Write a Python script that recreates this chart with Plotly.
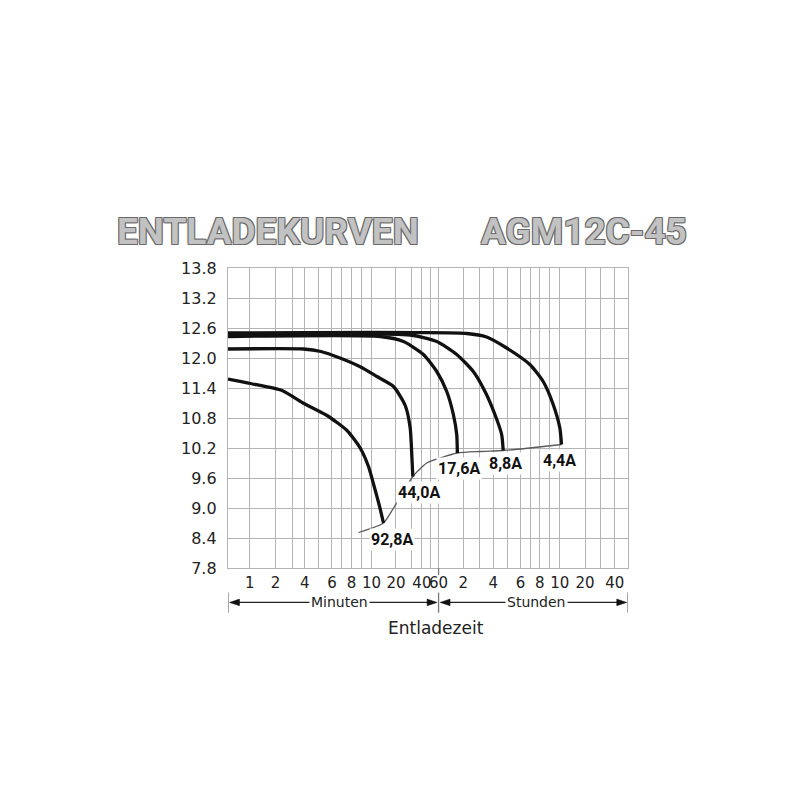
import numpy as np
import plotly.graph_objects as go

# ---- axis scale of the chart (non-uniform time grid) ----
GRID_MIN = [0, 1, 2, 3, 4, 5, 6, 7, 8, 9, 10, 20, 30, 40, 50, 60,
            120, 180, 240, 300, 360, 420, 480, 540, 600, 1200, 1800, 2400, 3000]
GRID_POS = [227.5, 249.2, 275, 291.7, 304.3, 317.8, 331.7, 341.7, 351.2, 361.5, 371.3,
            395.8, 411.8, 421.8, 430.2, 438.5, 463.3, 479.5, 493.3, 507.5, 520.5, 531,
            540, 550, 560, 585.3, 601.2, 615, 628.3]
TICK_LABELS = {1: "1", 2: "2", 4: "4", 6: "6", 8: "8", 10: "10", 20: "20", 40: "40",
               60: "60", 120: "2", 240: "4", 360: "6", 480: "8", 600: "10",
               1200: "20", 2400: "40"}
Y_TICKS = [7.8, 8.4, 9.0, 9.6, 10.2, 10.8, 11.4, 12.0, 12.6, 13.2, 13.8]

# ---- data: discharge time (minutes) and voltage (V) ----
T_928 = [0, 1.03, 2.4, 3.8, 5.64, 7.53, 8.85, 9.69, 11.1, 13.3, 14.9]
V_928 = [11.58, 11.49, 11.35, 11.11, 10.85, 10.55, 10.20, 9.83, 9.43, 9.03, 8.70]

T_440 = [0, 3.9, 5.2, 6.8, 8.9, 12.2, 19.0, 25.8, 28.9, 30.0, 30.9]
V_440 = [12.18, 12.18, 12.13, 12.0, 11.82, 11.63, 11.43, 11.05, 10.6, 10.0, 9.63]

T_176 = [0, 13.6, 24.7, 41.8, 57.8, 79.8, 95.8, 104, 105.5]
V_176 = [12.43, 12.43, 12.33, 12.07, 11.73, 11.33, 10.87, 10.47, 10.1]

T_88 = [0, 28.9, 57.8, 104, 157, 204, 247, 275.5, 282]
V_88 = [12.46, 12.46, 12.33, 12.07, 11.73, 11.33, 10.87, 10.47, 10.15]

T_44 = [0, 132.6, 211, 296.6, 414, 500, 560, 600, 640]
V_44 = [12.50, 12.49, 12.42, 12.2, 11.87, 11.53, 11.07, 10.6, 10.27]

T_END = [8.69, 14.9, 19.0, 23.7, 30.9, 45.8, 63.6, 105.5, 182, 282, 414, 640]
V_END = [8.51, 8.70, 9.0, 9.27, 9.63, 9.90, 10.0, 10.1, 10.13, 10.15, 10.2, 10.27]

CURVE_NAMES = ["92,8A", "44,0A", "17,6A", "8,8A", "4,4A"]


def pos(t):
    return np.interp(np.asarray(t, dtype=float), GRID_MIN, GRID_POS)


fig = go.Figure()

fig.add_trace(go.Scatter(x=pos(T_END), y=V_END, mode="lines",
                         line=dict(color="#5a5a5a", width=1.3, shape="spline", smoothing=0.6),
                         hoverinfo="skip"))

for name, t, v in zip(CURVE_NAMES,
                      [T_928, T_440, T_176, T_88, T_44],
                      [V_928, V_440, V_176, V_88, V_44]):
    fig.add_trace(go.Scatter(x=pos(t), y=v, mode="lines", name=name,
                             line=dict(color="#111111", width=3.3, shape="spline", smoothing=0.6)))

# curve labels (positions in axis units)
LABEL_POS = [(391.7, 8.37), (418.7, 9.32), (458.7, 9.79), (505.7, 9.89), (560.0, 9.95)]
LABEL_FONT = dict(family="Roboto, Liberation Sans, sans-serif",
                  size=16, color="#111111", weight="bold")
for name, (lx, ly) in zip(CURVE_NAMES, LABEL_POS):
    fig.add_annotation(x=lx, y=ly, xref="x", yref="y", text=name, showarrow=False,
                       font=LABEL_FONT, bgcolor="white", borderpad=1,
                       xanchor="center", yanchor="middle")

tickvals = GRID_POS[1:-1]
ticktext = [TICK_LABELS.get(m, "") for m in GRID_MIN[1:-1]]

GRID_COLOR = "#b4b4b4"
fig.update_xaxes(range=[GRID_POS[0], GRID_POS[-1]], tickmode="array", tickvals=tickvals,
                 ticktext=ticktext, tickangle=0, showgrid=True, gridcolor=GRID_COLOR,
                 gridwidth=1.3, showline=True, linecolor=GRID_COLOR, linewidth=1.3,
                 mirror=True, zeroline=False, ticks="", automargin=False,
                 ticklabelstandoff=1,
                 tickfont=dict(family="DejaVu Sans", size=15, color="#222222"))
fig.update_yaxes(range=[7.8, 13.8], tickmode="array", tickvals=Y_TICKS,
                 ticktext=[f"{v:.1f}" for v in Y_TICKS], showgrid=True,
                 gridcolor=GRID_COLOR, gridwidth=1.3, showline=True, linecolor=GRID_COLOR,
                 linewidth=1.3, mirror=True, zeroline=False, ticks="", automargin=False,
                 ticklabelstandoff=7,
                 tickfont=dict(family="DejaVu Sans", size=16, color="#222222"))

# --- time-range brackets below the axis ---
YB = -0.1147
AH = 0.011
LINE = dict(color="#222222", width=1.3)
shapes = []
# 60-minute tick extension
shapes.append(dict(type="line", xref="x", yref="paper", x0=438.5, x1=438.5, y0=0, y1=-0.024,
                   line=dict(color="#777777", width=1.3)))
for xb in (227.5, 438.5, 628.3):
    shapes.append(dict(type="line", xref="x", yref="paper", x0=xb, x1=xb, y0=-0.082, y1=-0.149,
                       line=dict(color="#777777", width=1.3)))
shapes.append(dict(type="line", xref="x", yref="paper", x0=235, x1=430, y0=YB, y1=YB, line=LINE))
shapes.append(dict(type="line", xref="x", yref="paper", x0=446, x1=621, y0=YB, y1=YB, line=LINE))


def head(tip, direction):
    base = tip + 10 * direction
    return dict(type="path", xref="x", yref="paper",
                path=f"M {tip},{YB} L {base},{YB + AH} L {base},{YB - AH} Z",
                fillcolor="#111111", line=dict(color="#111111", width=0.5))


shapes += [head(229.0, 1), head(437.0, -1), head(440.0, 1), head(627.0, -1)]
fig.update_layout(shapes=shapes)

SMALL = dict(family="DejaVu Sans", size=14, color="#222222")
fig.add_annotation(x=339, y=YB, xref="x", yref="paper", text="Minuten", showarrow=False,
                   font=SMALL, bgcolor="white", borderpad=1, xanchor="center", yanchor="middle")
fig.add_annotation(x=536.7, y=YB, xref="x", yref="paper", text="Stunden", showarrow=False,
                   font=SMALL, bgcolor="white", borderpad=1, xanchor="center", yanchor="middle")
fig.add_annotation(x=435.7, y=-0.199, xref="x", yref="paper", text="Entladezeit",
                   showarrow=False, xanchor="center", yanchor="middle",
                   font=dict(family="DejaVu Sans", size=17, color="#222222"))

# --- title ---
TITLE_Y = (568.3 - 232) / 300
TITLE_FONT = dict(family="Roboto, Liberation Sans, sans-serif",
                  size=37, color="#c2c2c2", weight="bold",
                  shadow="1px 1px 0 #6a6a6a, -1px -1px 0 #6a6a6a, 1px -1px 0 #6a6a6a, -1px 1px 0 #6a6a6a")
fig.add_annotation(x=267.3, y=TITLE_Y, xref="x", yref="paper", text="ENTLADEKURVEN",
                   showarrow=False, font=TITLE_FONT, xanchor="center", yanchor="middle")
fig.add_annotation(x=584.2, y=TITLE_Y, xref="x", yref="paper", text="AGM12C-45",
                   showarrow=False, font=TITLE_FONT, xanchor="center", yanchor="middle")

# the page body adds an 8px offset; margins compensate so the plot sits where the reference does
fig.update_layout(width=800, height=800, template="none", showlegend=False,
                  paper_bgcolor="white", plot_bgcolor="white",
                  margin=dict(l=219.5, r=179.7, t=260.3, b=239.7, autoexpand=False))

fig.write_html("out.html")
